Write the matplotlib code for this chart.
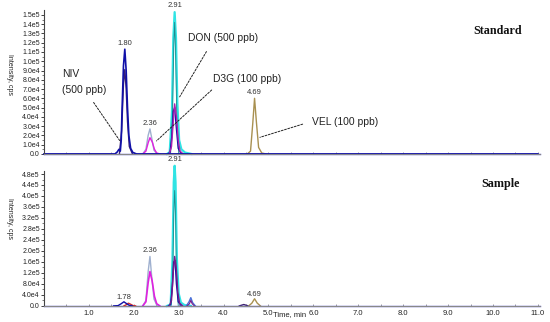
import matplotlib
matplotlib.use("Agg")
import matplotlib.pyplot as plt
from matplotlib.ticker import MultipleLocator, FixedLocator

plt.rcParams['font.family'] = ['Liberation Sans', 'DejaVu Sans']

# ---------------- data (time in min, intensity in cps) ----------------
# Standard chromatogram traces
std_baseline_t = [0.0, 11.05]
std_baseline_y = [0, 0]

std_niv_navy_t = [0.0, 1.58, 1.63, 1.67, 1.70, 1.72, 1.74, 1.77, 1.80, 1.83, 1.86, 1.89, 1.93, 1.98, 2.06, 11.0]
std_niv_navy_y = [0, 0, 2e3, 5e3, 3e3, 1.5e4, 5e4, 9.5e4, 1.13e5, 9e4, 5e4, 2e4, 6e3, 1.5e3, 0, 0]
std_niv_dark_t = [1.68, 1.73, 1.77, 1.80, 1.83, 1.86, 1.90, 1.97]
std_niv_dark_y = [0, 2.5e4, 7.5e4, 9.1e4, 7e4, 3.5e4, 8e3, 0]

std_d3g_gray_t = [2.20, 2.27, 2.32, 2.36, 2.40, 2.45, 2.52]
std_d3g_gray_y = [0, 5e3, 2e4, 2.7e4, 1.7e4, 4e3, 0]
std_d3g_mag_t = [2.20, 2.27, 2.32, 2.36, 2.41, 2.46, 2.51, 2.58]
std_d3g_mag_y = [0, 3e3, 1.2e4, 1.75e4, 1.3e4, 5e3, 1e3, 0]

std_don_cyan_t = [2.74, 2.80, 2.85, 2.88, 2.91, 2.94, 2.97, 3.01, 3.06, 3.14, 3.28]
std_don_cyan_y = [0, 2e3, 4.5e4, 1.25e5, 1.53e5, 1.25e5, 5.5e4, 1.5e4, 5e3, 1.5e3, 0]
std_don_teal_t = [2.82, 2.86, 2.89, 2.91, 2.93, 2.96, 3.00]
std_don_teal_y = [0, 4e4, 1.15e5, 1.42e5, 1.1e5, 3.5e4, 0]
std_don_navy_t = [2.76, 2.81, 2.85, 2.88, 2.91, 2.95, 2.99, 3.06]
std_don_navy_y = [0, 2e3, 2e4, 4.6e4, 5e4, 2.7e4, 6e3, 0]
std_don_mag_t = [2.79, 2.84, 2.88, 2.91, 2.95, 2.99, 3.03, 3.10]
std_don_mag_y = [0, 8e3, 3.5e4, 5.4e4, 4e4, 1.5e4, 3e3, 0]

std_vel_olive_t = [4.53, 4.60, 4.65, 4.69, 4.73, 4.78, 4.85, 4.94]
std_vel_olive_y = [0, 3e3, 3.3e4, 6e4, 3.5e4, 7e3, 1e3, 0]

# Sample chromatogram traces
smp_baseline_t = [0.0, 11.05]
smp_baseline_y = [0, 0]

smp_niv_navy_t = [1.55, 1.65, 1.72, 1.78, 1.84, 1.90, 1.97]
smp_niv_navy_y = [0, 1e3, 8e3, 1.5e4, 8e3, 2e3, 0]
smp_niv_red_t = [1.78, 1.84, 1.88, 1.93, 1.98, 2.04]
smp_niv_red_y = [0, 5e3, 1e4, 6e3, 1.5e3, 0]

smp_d3g_gray_t = [2.20, 2.27, 2.32, 2.36, 2.40, 2.45, 2.52]
smp_d3g_gray_y = [0, 2e4, 1.25e5, 1.8e5, 1.05e5, 2.5e4, 0]
smp_d3g_mag_t = [2.20, 2.27, 2.32, 2.36, 2.41, 2.46, 2.51, 2.58]
smp_d3g_mag_y = [0, 1.5e4, 8.5e4, 1.25e5, 9e4, 3.5e4, 8e3, 0]

smp_don_cyan_t = [2.74, 2.82, 2.86, 2.89, 2.91, 2.93, 2.96, 3.00, 3.05, 3.13, 3.27]
smp_don_cyan_y = [0, 5e3, 1.6e5, 4.5e5, 5.1e5, 4.5e5, 1.7e5, 4.5e4, 1.2e4, 3e3, 0]
smp_don_teal_t = [2.83, 2.87, 2.89, 2.91, 2.93, 2.95, 2.99]
smp_don_teal_y = [0, 1.3e5, 3.3e5, 4.2e5, 3.3e5, 1.2e5, 0]
smp_don_navy_t = [2.77, 2.82, 2.86, 2.89, 2.92, 2.95, 2.99, 3.06]
smp_don_navy_y = [0, 5e3, 7e4, 1.6e5, 1.65e5, 8e4, 1.5e4, 0]
smp_don_purple_t = [2.79, 2.84, 2.88, 2.91, 2.95, 2.98, 3.02, 3.09]
smp_don_purple_y = [0, 2e4, 1.25e5, 1.8e5, 1.3e5, 5e4, 1e4, 0]

smp_p327_blue_t = [3.17, 3.23, 3.27, 3.31, 3.37]
smp_p327_blue_y = [0, 1.5e4, 3e4, 1.2e4, 0]
smp_p327_purple_t = [3.19, 3.24, 3.27, 3.30, 3.35]
smp_p327_purple_y = [0, 8e3, 2e4, 8e3, 0]

smp_bump_dark_t = [4.35, 4.45, 4.55]
smp_bump_dark_y = [0, 5e3, 0]
smp_vel_olive_t = [4.56, 4.63, 4.69, 4.75, 4.82]
smp_vel_olive_y = [0, 1e4, 2.6e4, 1e4, 0]

# peak labels
std_peak_labels = ["1.80", "2.36", "2.91", "4.69"]
std_peak_label_t = [1.80, 2.36, 2.91, 4.69]
std_peak_label_y = [1.15e5, 2.9e4, 1.56e5, 6.2e4]
smp_peak_labels = ["1.78", "2.36", "2.91", "4.69"]
smp_peak_label_t = [1.78, 2.36, 2.91, 4.69]
smp_peak_label_y = [1.7e4, 1.88e5, 5.2e5, 2.8e4]

# axis ticks
x_ticks = [1.0, 2.0, 3.0, 4.0, 5.0, 6.0, 7.0, 8.0, 9.0, 10.0, 11.0]
x_tick_labels = ["1.0", "2.0", "3.0", "4.0", "5.0", "6.0", "7.0", "8.0", "9.0", "10.0", "11.0"]
std_y_ticks = [0, 1e4, 2e4, 3e4, 4e4, 5e4, 6e4, 7e4, 8e4, 9e4, 1e5, 1.1e5, 1.2e5, 1.3e5, 1.4e5, 1.5e5]
std_y_tick_labels = ["0.0", "1.0e4", "2.0e4", "3.0e4", "4.0e4", "5.0e4", "6.0e4", "7.0e4", "8.0e4",
                     "9.0e4", "1.0e5", "1.1e5", "1.2e5", "1.3e5", "1.4e5", "1.5e5"]
smp_y_ticks = [0, 4e4, 8e4, 1.2e5, 1.6e5, 2.0e5, 2.4e5, 2.8e5, 3.2e5, 3.6e5, 4.0e5, 4.4e5, 4.8e5]
smp_y_tick_labels = ["0.0", "4.0e4", "8.0e4", "1.2e5", "1.6e5", "2.0e5", "2.4e5", "2.8e5", "3.2e5",
                     "3.6e5", "4.0e5", "4.4e5", "4.8e5"]

# ---------------- colours ----------------
C_BASE = "#5858d8"
C_NAVY = "#1010a8"
C_DARK = "#3c2070"
C_GRAY = "#9fb0cf"
C_MAG = "#e020e0"
C_CYAN = "#30e4e4"
C_TEAL = "#208a8c"
C_PURPLE = "#7a1a8a"
C_OLIVE = "#a89050"
C_RED = "#d03030"
C_BLUE = "#4a70d8"

fig = plt.figure(figsize=(5.5, 3.22), dpi=100)
ax1 = fig.add_axes([0.08, 0.522, 0.902, 0.447])
ax2 = fig.add_axes([0.08, 0.050, 0.902, 0.419])

lw = 1.0


def style(ax, yticks, ylabels, ymax, show_x):
    ax.set_xlim(0, 11.05)
    ax.set_ylim(0, ymax)
    for s in ["top", "right"]:
        ax.spines[s].set_visible(False)
    ax.spines["left"].set_color("#444444")
    ax.spines["bottom"].set_color("#888888")
    ax.spines["left"].set_linewidth(0.8)
    ax.spines["bottom"].set_linewidth(0.8)
    ax.yaxis.set_major_locator(FixedLocator(yticks))
    ax.set_yticklabels(ylabels)
    ax.tick_params(axis="y", labelsize=5, length=2, width=0.6, pad=1, colors="#222222")
    ax.yaxis.set_minor_locator(FixedLocator([(a + b) / 2 for a, b in zip(yticks[:-1], yticks[1:])]))
    ax.tick_params(axis="y", which="minor", length=1.2, width=0.5, colors="#444444")
    ax.xaxis.set_major_locator(FixedLocator(x_ticks))
    ax.xaxis.set_minor_locator(MultipleLocator(0.5))
    ax.tick_params(axis="x", which="both", direction="in", length=1.5, width=0.5, colors="#777777")
    if show_x:
        ax.set_xticklabels(x_tick_labels)
        ax.tick_params(axis="x", labelsize=5.5, pad=3, labelcolor="#222222")
    else:
        ax.set_xticklabels([])


style(ax1, std_y_ticks, std_y_tick_labels, 1.553e5, False)
style(ax2, smp_y_ticks, smp_y_tick_labels, 4.91e5, True)

std_traces = [
    (std_niv_dark_t, std_niv_dark_y, C_DARK, lw),
    (std_d3g_gray_t, std_d3g_gray_y, C_GRAY, lw),
    (std_d3g_mag_t, std_d3g_mag_y, C_MAG, lw),
    (std_don_cyan_t, std_don_cyan_y, C_CYAN, 1.6),
    (std_don_teal_t, std_don_teal_y, C_TEAL, 0.6),
    (std_don_navy_t, std_don_navy_y, C_NAVY, lw),
    (std_don_mag_t, std_don_mag_y, "#b020b0", lw),
    (std_vel_olive_t, std_vel_olive_y, C_OLIVE, lw),
    (std_baseline_t, std_baseline_y, C_BASE, lw),
    (std_niv_navy_t, std_niv_navy_y, C_NAVY, 1.2),
]
for t, y, c, w in std_traces:
    ax1.plot(t, y, color=c, lw=w, clip_on=False, solid_joinstyle="round")

smp_traces = [
    (smp_d3g_gray_t, smp_d3g_gray_y, C_GRAY, lw),
    (smp_d3g_mag_t, smp_d3g_mag_y, C_MAG, 1.2),
    (smp_don_cyan_t, smp_don_cyan_y, C_CYAN, 1.6),
    (smp_don_teal_t, smp_don_teal_y, C_TEAL, 0.6),
    (smp_don_navy_t, smp_don_navy_y, C_NAVY, lw),
    (smp_don_purple_t, smp_don_purple_y, C_PURPLE, lw),
    (smp_p327_blue_t, smp_p327_blue_y, C_BLUE, lw),
    (smp_p327_purple_t, smp_p327_purple_y, C_PURPLE, 0.8),
    (smp_bump_dark_t, smp_bump_dark_y, C_DARK, lw),
    (smp_vel_olive_t, smp_vel_olive_y, C_OLIVE, lw),
    (smp_baseline_t, smp_baseline_y, C_BASE, lw),
    (smp_niv_red_t, smp_niv_red_y, C_RED, lw),
    (smp_niv_navy_t, smp_niv_navy_y, C_NAVY, lw),
]
for t, y, c, w in smp_traces:
    ax2.plot(t, y, color=c, lw=w, clip_on=False, solid_joinstyle="round")

for lab, t, y in zip(std_peak_labels, std_peak_label_t, std_peak_label_y):
    ax1.text(t, y, lab, ha="center", va="bottom", fontsize=5.5, color="#333333")
for lab, t, y in zip(smp_peak_labels, smp_peak_label_t, smp_peak_label_y):
    ax2.text(t, y, lab, ha="center", va="bottom", fontsize=5.5, color="#333333")

ann_kw = dict(fontsize=7.4, color="#222222", ha="left", va="center")
arrow_kw = dict(arrowstyle="-", linestyle=(0, (2, 1.5)), color="#222222", lw=0.7)
ax1.annotate("", xy=(1.72, 1.2e4), xytext=(1.07, 5.8e4), arrowprops=arrow_kw)
ax1.text(0.40, 8.6e4, "NIV", **ann_kw)
ax1.text(0.40, 6.9e4, "(500 ppb)", **ann_kw)
ax1.annotate("", xy=(2.99, 5.9e4), xytext=(3.65, 1.13e5), arrowprops=arrow_kw)
ax1.text(3.20, 1.25e5, "DON (500 ppb)", **ann_kw)
ax1.annotate("", xy=(2.46, 1.2e4), xytext=(3.78, 7.1e4), arrowprops=arrow_kw)
ax1.text(3.77, 8.1e4, "D3G (100 ppb)", **ann_kw)
ax1.annotate("", xy=(4.75, 1.7e4), xytext=(5.82, 3.3e4), arrowprops=arrow_kw)
ax1.text(5.98, 3.4e4, "VEL (100 ppb)", **ann_kw)

ax1.text(0.963, 0.855, "Standard", transform=ax1.transAxes, ha="right", va="center",
         fontsize=8.7, fontweight="bold", family=["Liberation Serif", "DejaVu Serif"], color="#111111")
ax2.text(0.96, 0.905, "Sample", transform=ax2.transAxes, ha="right", va="center",
         fontsize=8.7, fontweight="bold", family=["Liberation Serif", "DejaVu Serif"], color="#111111")

fig.text(0.018, 1 - 75 / 322, "Intensity, cps", rotation=270, ha="center", va="center",
         fontsize=5, color="#222222")
fig.text(0.018, 1 - 218 / 322, "Intensity, cps", rotation=270, ha="center", va="center",
         fontsize=5, color="#222222")
fig.text(290 / 550, 1 - 315 / 322, "Time, min", ha="center", va="center", fontsize=5.5, color="#222222")

fig.savefig("out.png", dpi=100)
